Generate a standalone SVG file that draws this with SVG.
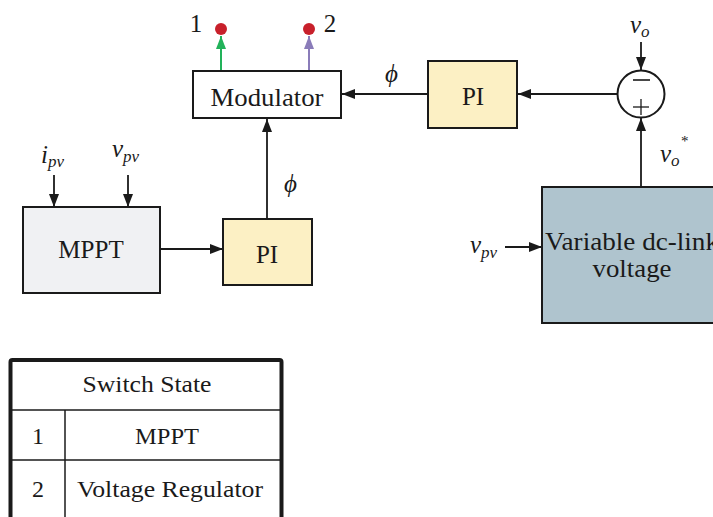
<svg xmlns="http://www.w3.org/2000/svg" width="713" height="517" viewBox="0 0 713 517">
<style>
.box{stroke:#1a1a1a;stroke-width:2}
.t{font-family:"Liberation Serif","Times New Roman",serif;font-size:25px;fill:#1a1a1a;text-anchor:middle}
.tt{font-family:"Liberation Serif","Times New Roman",serif;font-size:24px;fill:#1a1a1a;text-anchor:middle}
.m{font-family:"Liberation Serif","Times New Roman",serif;font-style:italic;font-size:25px;fill:#1a1a1a}
.s{font-size:17px}
.c{fill:none;stroke:#1a1a1a;stroke-width:1.8}
</style>
<defs>
<marker id="ah" markerUnits="userSpaceOnUse" markerWidth="14" markerHeight="12" refX="13" refY="6" orient="auto"><path d="M0,1 L13,6 L0,11 z" fill="#1a1a1a"/></marker>
<marker id="ag" markerUnits="userSpaceOnUse" markerWidth="14" markerHeight="12" refX="13" refY="6" orient="auto"><path d="M0,1 L13,6 L0,11 z" fill="#22b25a"/></marker>
<marker id="ap" markerUnits="userSpaceOnUse" markerWidth="14" markerHeight="12" refX="13" refY="6" orient="auto"><path d="M0,1 L13,6 L0,11 z" fill="#8a7cb9"/></marker>
</defs>
<rect width="713" height="517" fill="#ffffff"/>

<g id="connectors">
<line x1="221" y1="71" x2="221" y2="36" stroke="#22b25a" stroke-width="2" marker-end="url(#ag)"/>
<line x1="309" y1="71" x2="309" y2="36" stroke="#8a7cb9" stroke-width="2" marker-end="url(#ap)"/>
<line class="c" x1="428" y1="94" x2="342" y2="94" marker-end="url(#ah)"/>
<line class="c" x1="617" y1="94" x2="518" y2="94" marker-end="url(#ah)"/>
<line class="c" x1="641" y1="42" x2="641" y2="70" marker-end="url(#ah)"/>
<line class="c" x1="641" y1="187" x2="641" y2="118" marker-end="url(#ah)"/>
<line class="c" x1="54" y1="175" x2="54" y2="207" marker-end="url(#ah)"/>
<line class="c" x1="128" y1="175" x2="128" y2="207" marker-end="url(#ah)"/>
<line class="c" x1="160" y1="249" x2="223" y2="249" marker-end="url(#ah)"/>
<line class="c" x1="267" y1="219" x2="267" y2="119" marker-end="url(#ah)"/>
<line class="c" x1="505" y1="247" x2="542" y2="247" marker-end="url(#ah)"/>
</g>

<g id="out1">
<circle cx="221" cy="29" r="6" fill="#c8202b"/>
<text class="t" x="196" y="32">1</text>
</g>
<g id="out2">
<circle cx="309" cy="29" r="6" fill="#c8202b"/>
<text class="t" x="330" y="32">2</text>
</g>

<g id="modulator">
<rect class="box" x="193" y="71" width="148" height="47" fill="#ffffff"/>
<text class="t" x="267" y="106" textLength="113" lengthAdjust="spacingAndGlyphs">Modulator</text>
</g>

<g id="pi-top">
<rect class="box" x="428" y="61" width="89" height="67" fill="#fcf0c4"/>
<text class="t" x="473" y="105">PI</text>
</g>

<g id="sum">
<circle cx="641" cy="94" r="23.5" fill="#ffffff" stroke="#1a1a1a" stroke-width="2"/>
<line x1="633" y1="80" x2="650" y2="80" stroke="#1a1a1a" stroke-width="1.6"/>
<line x1="633" y1="107" x2="649" y2="107" stroke="#1a1a1a" stroke-width="1.3"/>
<line x1="641" y1="99" x2="641" y2="115" stroke="#1a1a1a" stroke-width="1.3"/>
</g>

<g id="mppt">
<rect class="box" x="23" y="207" width="137" height="86" fill="#f0f1f3"/>
<text class="t" x="91" y="258">MPPT</text>
</g>

<g id="pi-bottom">
<rect class="box" x="223" y="219" width="89" height="66" fill="#fcf0c4"/>
<text class="t" x="267" y="263">PI</text>
</g>

<g id="dclink">
<rect class="box" x="542" y="187" width="185" height="136" fill="#afc4ce"/>
<text class="t" x="632" y="250" textLength="174" lengthAdjust="spacingAndGlyphs">Variable dc-link</text>
<text class="t" x="632" y="277" textLength="79" lengthAdjust="spacingAndGlyphs">voltage</text>
</g>

<g id="labels">
<text class="m" x="385" y="82">ϕ</text>
<text class="m" x="284" y="192">ϕ</text>
<text class="m" x="630" y="33">v<tspan class="s" dy="4">o</tspan></text>
<text class="m" x="660" y="162">v<tspan class="s" dy="4">o</tspan></text>
<text class="m" x="681" y="146" style="font-size:15px;font-style:normal">*</text>
<text class="m" x="41" y="163">i<tspan class="s" dy="4">pv</tspan></text>
<text class="m" x="112" y="157">v<tspan class="s" dy="5">pv</tspan></text>
<text class="m" x="470" y="253">v<tspan class="s" dy="5">pv</tspan></text>
</g>

<g id="table">
<rect x="10.5" y="360" width="271" height="190" rx="2" fill="#ffffff" stroke="#1a1a1a" stroke-width="4"/>
<line x1="12" y1="410" x2="280" y2="410" stroke="#1a1a1a" stroke-width="1.5"/>
<line x1="12" y1="460" x2="280" y2="460" stroke="#1a1a1a" stroke-width="1.5"/>
<line x1="65" y1="410" x2="65" y2="517" stroke="#1a1a1a" stroke-width="1.5"/>
<text class="tt" x="147" y="392" textLength="129" lengthAdjust="spacingAndGlyphs">Switch State</text>
<text class="tt" x="38" y="444">1</text>
<text class="tt" x="167" y="444" textLength="64" lengthAdjust="spacingAndGlyphs">MPPT</text>
<text class="tt" x="38" y="497">2</text>
<text class="tt" x="170" y="497" textLength="186" lengthAdjust="spacingAndGlyphs">Voltage Regulator</text>
</g>
</svg>
